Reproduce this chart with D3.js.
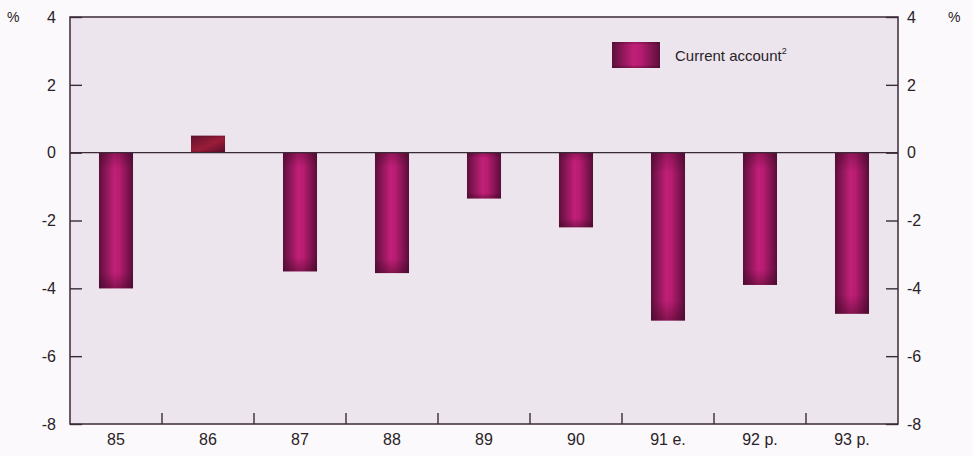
<!DOCTYPE html>
<html>
<head>
<meta charset="utf-8">
<script src="https://cdn.jsdelivr.net/npm/d3@7"></script>
<style>
  html, body { margin: 0; padding: 0; background: #fbf9fb; }
  svg { display: block; }
  text { font-family: "Liberation Sans Narrow", "Liberation Sans", Arial, sans-serif; fill: #2a2228; }
</style>
</head>
<body>
<svg id="chart" width="973" height="456"></svg>
<script>
// Current account balance, % of GDP
const categories = ["85", "86", "87", "88", "89", "90", "91 e.", "92 p.", "93 p."];
const currentAccount = [-4.0, 0.5, -3.5, -3.55, -1.35, -2.2, -4.95, -3.9, -4.75];
const yTicks = [4, 2, 0, -2, -4, -6, -8];
const seriesName = "Current account";

const svg = d3.select("#chart");
const margin = { left: 70, right: 75, top: 17, bottom: 32 };
const W = 973, H = 456;
const x0 = margin.left, x1 = W - margin.right;
const y0 = margin.top, y1 = H - margin.bottom;

const x = d3.scaleBand().domain(categories).range([x0, x1]).paddingInner(0.63).paddingOuter(0.315);
const y = d3.scaleLinear().domain([-8, 4]).range([y1, y0]);

// Gradients for the bars
const defs = svg.append("defs");
const g1 = defs.append("linearGradient").attr("id", "barGrad").attr("x1", "0").attr("x2", "1").attr("y1", "0").attr("y2", "0");
g1.append("stop").attr("offset", "0%").attr("stop-color", "#5e0f3c");
g1.append("stop").attr("offset", "45%").attr("stop-color", "#c11f78");
g1.append("stop").attr("offset", "60%").attr("stop-color", "#b81c72");
g1.append("stop").attr("offset", "100%").attr("stop-color", "#5a0e3a");
const g2 = defs.append("linearGradient").attr("id", "barPos").attr("x1", "0").attr("x2", "1").attr("y1", "0").attr("y2", "1");
g2.append("stop").attr("offset", "0%").attr("stop-color", "#64122e");
g2.append("stop").attr("offset", "55%").attr("stop-color", "#9a1c38");
g2.append("stop").attr("offset", "100%").attr("stop-color", "#560d2a");
const g3 = defs.append("linearGradient").attr("id", "shade").attr("x1", "0").attr("x2", "0").attr("y1", "0").attr("y2", "1");
g3.append("stop").attr("offset", "0%").attr("stop-color", "#3a0620").attr("stop-opacity", 0.35);
g3.append("stop").attr("offset", "12%").attr("stop-color", "#3a0620").attr("stop-opacity", 0);
g3.append("stop").attr("offset", "88%").attr("stop-color", "#3a0620").attr("stop-opacity", 0);
g3.append("stop").attr("offset", "100%").attr("stop-color", "#3a0620").attr("stop-opacity", 0.45);

// Plot area background
svg.append("rect").attr("x", x0).attr("y", y0).attr("width", x1 - x0).attr("height", y1 - y0)
  .attr("fill", "#ece5ed");

// Bars
const bars = svg.append("g");
currentAccount.forEach((v, i) => {
  const bx = x(categories[i]);
  const top = y(Math.max(0, v));
  const h = Math.abs(y(v) - y(0));
  bars.append("rect").attr("x", bx).attr("y", top).attr("width", x.bandwidth()).attr("height", h)
    .attr("fill", v >= 0 ? "url(#barPos)" : "url(#barGrad)");
  bars.append("rect").attr("x", bx).attr("y", top).attr("width", x.bandwidth()).attr("height", h)
    .attr("fill", "url(#shade)");
});

// Zero line
svg.append("line").attr("x1", x0).attr("x2", x1).attr("y1", y(0)).attr("y2", y(0))
  .attr("stroke", "#3b2a38").attr("stroke-width", 1.3);

// Frame
svg.append("rect").attr("x", x0).attr("y", y0).attr("width", x1 - x0).attr("height", y1 - y0)
  .attr("fill", "none").attr("stroke", "#3b2a38").attr("stroke-width", 1.5);

// Left and right axes (ticks point inward)
const leftAxis = d3.axisRight(y).tickValues(yTicks).tickSize(12).tickFormat("");
svg.append("g").attr("transform", `translate(${x0},0)`).call(leftAxis)
  .call(g => g.select(".domain").remove())
  .call(g => g.selectAll("line").attr("stroke", "#3b2a38").attr("stroke-width", 1.4));
const rightAxis = d3.axisLeft(y).tickValues(yTicks).tickSize(12).tickFormat("");
svg.append("g").attr("transform", `translate(${x1},0)`).call(rightAxis)
  .call(g => g.select(".domain").remove())
  .call(g => g.selectAll("line").attr("stroke", "#3b2a38").attr("stroke-width", 1.4));

// Tick labels, both sides
const fmt = d => d3.format("d")(d).replace("\u2212", "-");
svg.append("g").selectAll("text").data(yTicks).join("text")
  .attr("x", x0 - 14).attr("y", d => y(d)).attr("dy", "0.36em")
  .attr("text-anchor", "end").attr("font-size", 16).text(fmt);
svg.append("g").selectAll("text").data(yTicks).join("text")
  .attr("x", x1 + 9).attr("y", d => y(d)).attr("dy", "0.36em")
  .attr("text-anchor", "start").attr("font-size", 16).text(fmt);
svg.append("text").attr("x", 7).attr("y", y(4)).attr("dy", "0.36em").attr("font-size", 14).text("%");
svg.append("text").attr("x", 948).attr("y", y(4)).attr("dy", "0.36em").attr("font-size", 14).text("%");

// Bottom: category labels and separator ticks
const gap = (x.step() - x.bandwidth()) / 2;
svg.append("g").selectAll("line").data(categories.slice(1)).join("line")
  .attr("x1", d => x(d) - gap).attr("x2", d => x(d) - gap)
  .attr("y1", y1).attr("y2", y1 - 11)
  .attr("stroke", "#3b2a38").attr("stroke-width", 1.4);
svg.append("g").selectAll("text").data(categories).join("text")
  .attr("x", d => x(d) + x.bandwidth() / 2).attr("y", y1 + 21)
  .attr("text-anchor", "middle").attr("font-size", 16).text(d => d);

// Legend
const lg = svg.append("g").attr("transform", "translate(612,42)");
lg.append("rect").attr("width", 48).attr("height", 26).attr("fill", "url(#barGrad)");
lg.append("rect").attr("width", 48).attr("height", 26).attr("fill", "url(#shade)");
const lt = lg.append("text").attr("x", 63).attr("y", 19).attr("font-size", 15)
  .attr("font-family", "'Liberation Sans', Arial, sans-serif");
lt.append("tspan").text(seriesName);
lt.append("tspan").attr("dy", -7).attr("font-size", 9).text("2");
</script>
</body>
</html>
